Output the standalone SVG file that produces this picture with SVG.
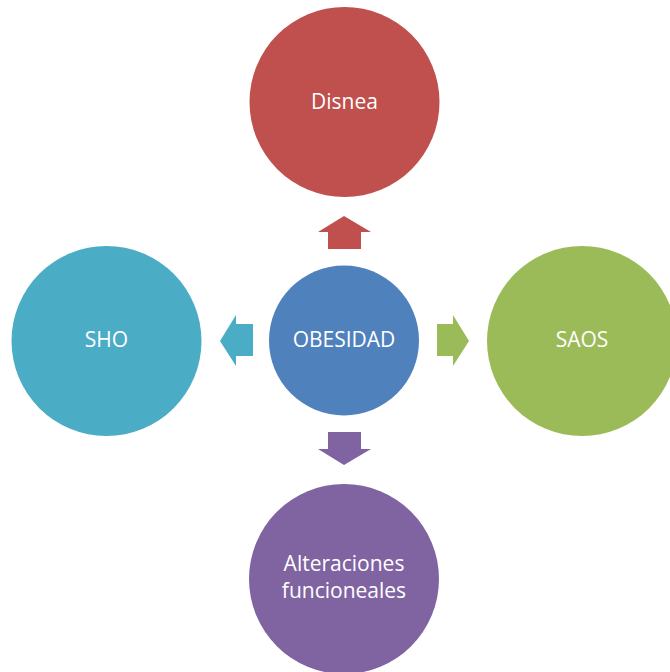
<svg xmlns="http://www.w3.org/2000/svg" width="670" height="672" viewBox="0 0 670 672">
<style>
text{font-family:"Open Sans","Noto Sans",sans-serif;font-size:21px;fill:#ffffff;text-anchor:middle}
</style>
<rect width="670" height="672" fill="#ffffff"/>
<g id="connectors">
<polygon id="arrow-up" points="344,216 371,232 361,232 361,249 328,249 328,232 318,232" fill="#C0504D"/>
<polygon id="arrow-left" points="220,341 236,315 236,324 253,324 253,356 236,356 236,366" fill="#4BACC6"/>
<polygon id="arrow-right" points="469,341 453,315 453,324 437,324 437,356 453,356 453,366" fill="#9BBB59"/>
<polygon id="arrow-down" points="344,465 371,449 361,449 361,432 328,432 328,449 318,449" fill="#8064A2"/>
</g>
<g id="node-disnea">
<circle cx="344.5" cy="102" r="95" fill="#C0504D"/>
<text x="344.5" y="109">Disnea</text>
</g>
<g id="node-obesidad">
<circle cx="344" cy="340.5" r="75" fill="#4F81BD"/>
<text x="344" y="347">OBESIDAD</text>
</g>
<g id="node-sho">
<circle cx="106.5" cy="341" r="95" fill="#4BACC6"/>
<text x="106.5" y="347">SHO</text>
</g>
<g id="node-saos">
<circle cx="582" cy="341" r="95" fill="#9BBB59"/>
<text x="582" y="347">SAOS</text>
</g>
<g id="node-alteraciones">
<circle cx="344" cy="579" r="95" fill="#8064A2"/>
<text x="344" y="571">Alteraciones</text>
<text x="344" y="598">funcioneales</text>
</g>
</svg>
